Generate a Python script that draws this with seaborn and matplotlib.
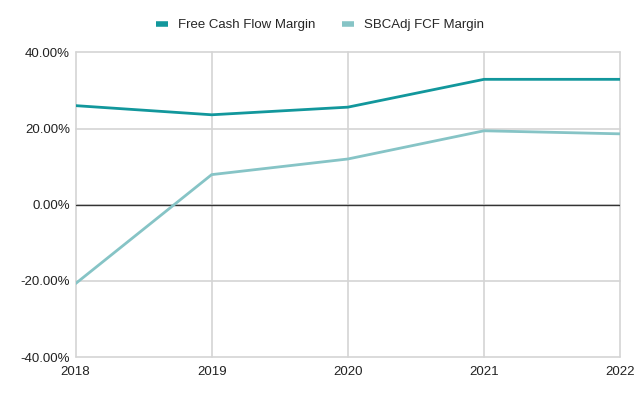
import pandas as pd
import matplotlib.pyplot as plt
import matplotlib.ticker as mtick
import seaborn as sns

# Data
years = [2018, 2019, 2020, 2021, 2022]
fcf_margin = [26.0, 23.6, 25.6, 32.9, 32.9]
sbc_adj_margin = [-20.7, 7.9, 12.0, 19.4, 18.6]
series_names = ['Free Cash Flow Margin', 'SBCAdj FCF Margin']
colors = ['#12979c', '#86c4c6']

df = pd.DataFrame({
    'Year': years * 2,
    'Margin': fcf_margin + sbc_adj_margin,
    'Series': [series_names[0]] * len(years) + [series_names[1]] * len(years),
})

sns.set_style('white')
plt.rcParams['font.family'] = ['Liberation Sans', 'DejaVu Sans']

fig = plt.figure(figsize=(6.4, 3.96), dpi=100)
ax = fig.add_axes([0.118, 0.098, 0.851, 0.770])

sns.lineplot(data=df, x='Year', y='Margin', hue='Series',
             palette=dict(zip(series_names, colors)), linewidth=2,
             ax=ax, legend=False, zorder=3)

ax.set_xlim(2018, 2022)
ax.set_ylim(-40, 40)
ax.set_xticks(years)
ax.set_yticks([-40, -20, 0, 20, 40])
ax.yaxis.set_major_formatter(mtick.FuncFormatter(lambda v, p: f'{v:.2f}%'))
ax.grid(True, color='#d4d4d4', linewidth=1.2)
for gl in ax.get_xgridlines() + ax.get_ygridlines():
    gl.set_clip_on(False)
ax.axhline(0, color='#333333', linewidth=1, zorder=2)
for s in ax.spines.values():
    s.set_visible(False)
ax.tick_params(length=0, labelsize=9.5, colors='#222222')
ax.tick_params(axis='x', pad=6)
ax.tick_params(axis='y', pad=4)
ax.set_xlabel('')
ax.set_ylabel('')

handles = [plt.Line2D([], [], color=c, linewidth=4, solid_capstyle='butt') for c in colors]
fig.legend(handles, series_names, loc='center', bbox_to_anchor=(0.5, 0.936),
           ncol=2, frameon=False, fontsize=9.5, handlelength=0.9,
           columnspacing=2.0, handletextpad=0.8)

fig.savefig('out.png', dpi=100)
